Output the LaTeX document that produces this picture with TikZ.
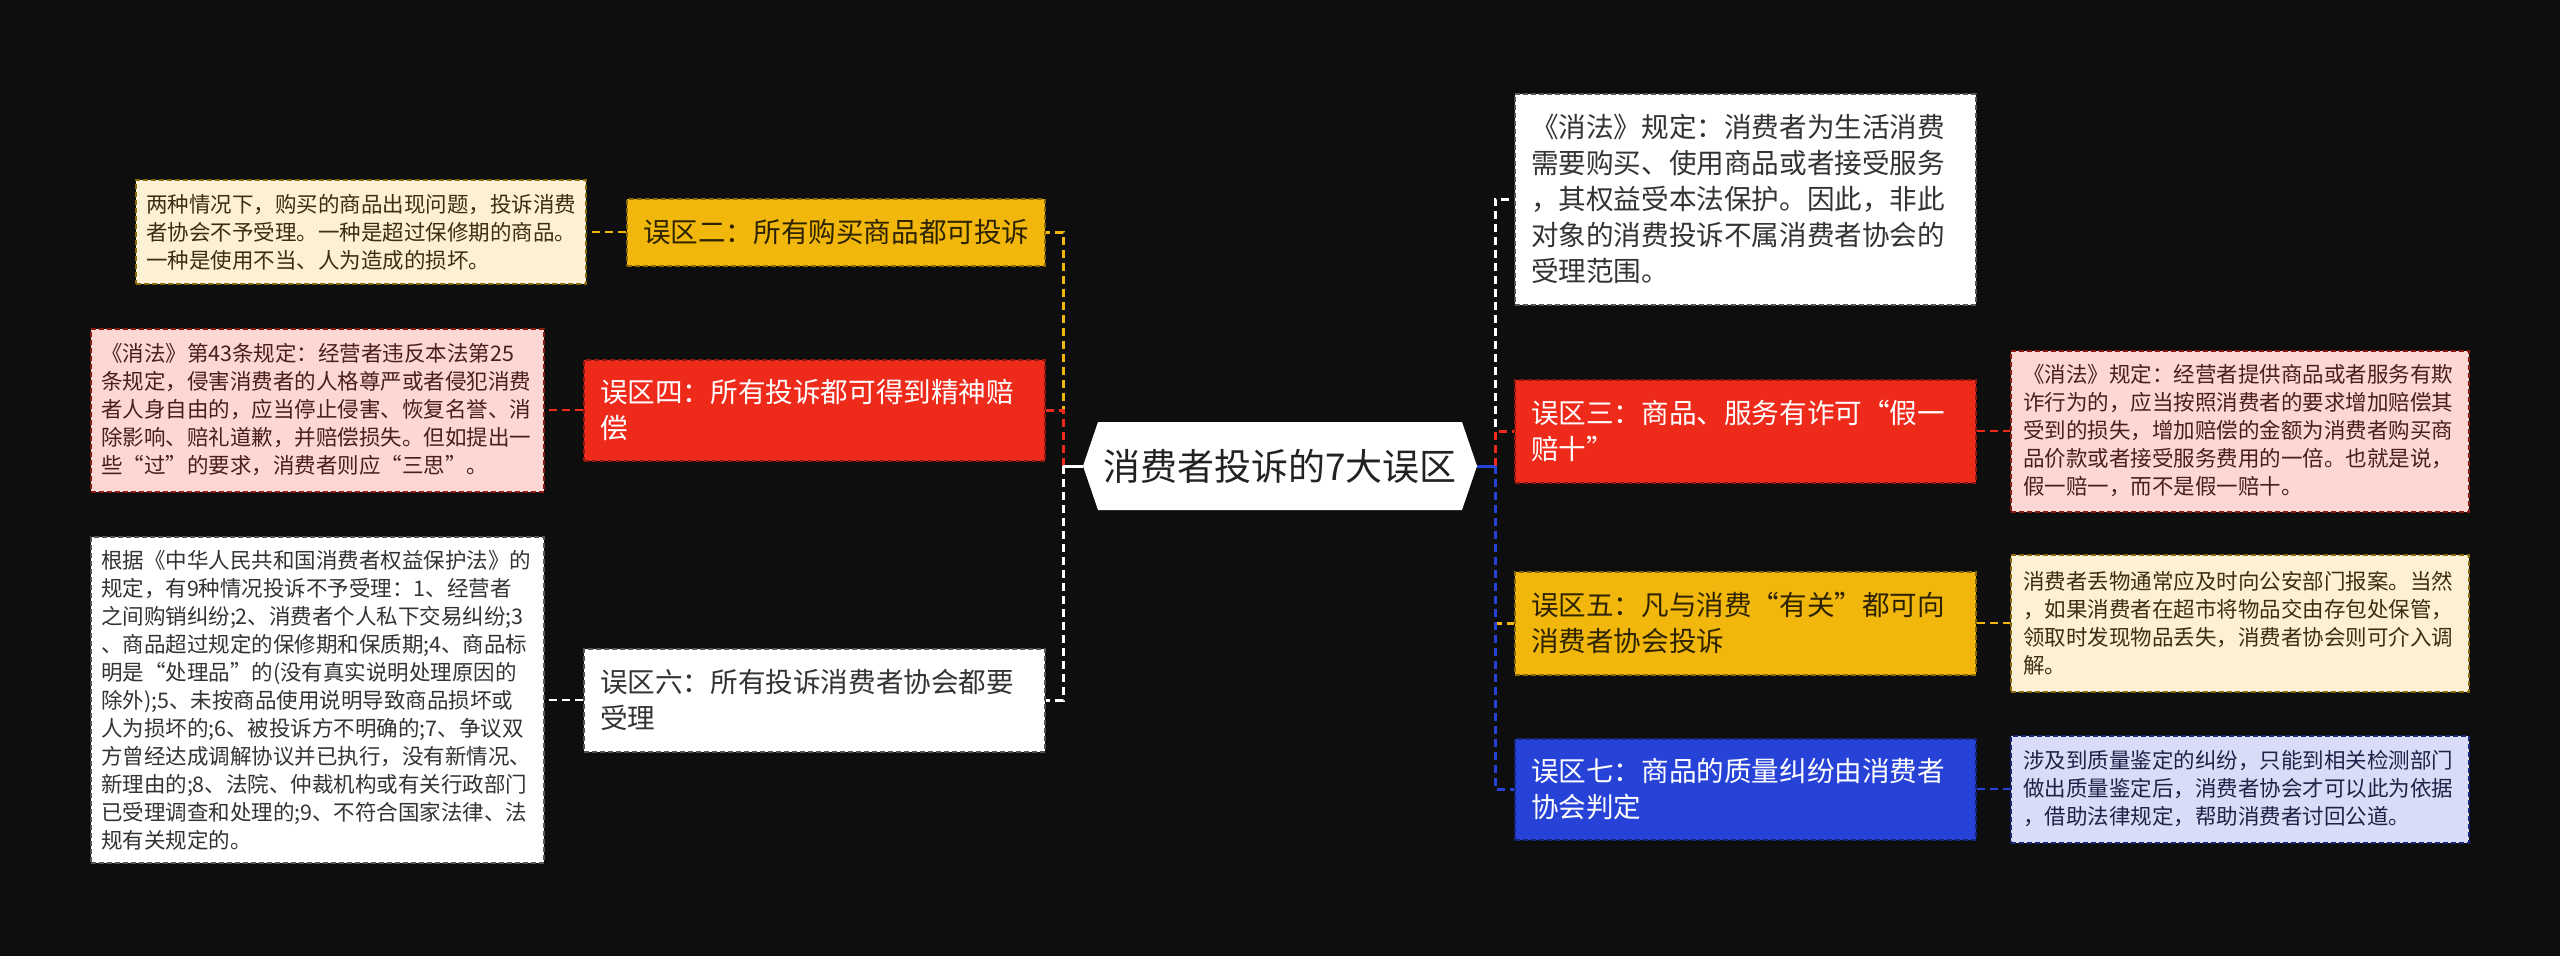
\documentclass[tikz,border=0pt]{standalone}
\usepackage{fontspec}
\setmainfont{Noto Sans CJK SC}
\definecolor{bgc}{HTML}{0E0E0E}
\definecolor{cY}{HTML}{F1B70C}
\definecolor{cYd}{HTML}{8A6A08}
\definecolor{cYt}{HTML}{2E2300}
\definecolor{cR}{HTML}{EE2A1B}
\definecolor{cRd}{HTML}{8A1A10}
\definecolor{cB}{HTML}{2742D6}
\definecolor{cBd}{HTML}{16267A}
\definecolor{cW}{HTML}{FFFFFF}
\definecolor{cWd}{HTML}{555555}
\definecolor{tW}{HTML}{333333}
\definecolor{tRoot}{HTML}{222222}
\definecolor{lY}{HTML}{FDF1D4}
\definecolor{lYt}{HTML}{3A2F14}
\definecolor{lR}{HTML}{FDD7D3}
\definecolor{lRt}{HTML}{4A1F1A}
\definecolor{lB}{HTML}{D9DCF6}
\definecolor{lBt}{HTML}{1F2247}
\newcommand\brfont{\fontsize{27.6pt}{36pt}\selectfont}
\newcommand\detfont{\fontsize{21.5pt}{28pt}\selectfont}
\newcommand\rtfont{\fontsize{37pt}{44pt}\selectfont}
\begin{document}
\begin{tikzpicture}[x=1pt,y=-1pt,
  brbox/.style={rectangle, align=left, inner xsep=16pt, inner ysep=0pt, text width=429pt, font=\brfont, line width=2pt, dash pattern=on 5pt off 3pt},
  detbox/.style={rectangle, align=left, inner xsep=10pt, inner ysep=0pt, text width=433pt, font=\detfont, line width=2pt, dash pattern=on 5pt off 3pt},
  cnx/.style={line width=3pt, dash pattern=on 8pt off 5pt},
  dcnx/.style={line width=2.5pt, dash pattern=on 8pt off 5pt},
  stub/.style={line width=3pt},
  bY/.style={fill=cY, draw=cYd, text=cYt},
  bR/.style={fill=cR, draw=cRd, text=white},
  bB/.style={fill=cB, draw=cBd, text=white},
  bW/.style={fill=cW, draw=cWd, text=tW},
  dY/.style={fill=lY, draw=cYd, text=lYt},
  dR/.style={fill=lR, draw=cRd, text=lRt},
  dB/.style={fill=lB, draw=cBd, text=lBt},
  dW/.style={fill=cW, draw=cWd, text=tW},
]
\fill[bgc] (0,0) rectangle (2560,956);
\useasboundingbox (0,0) rectangle (2560,956);

% root
\fill[white] (1083,466) -- (1098,422) -- (1462,422) -- (1477,466) -- (1462,510) -- (1098,510) -- cycle;
\node[rectangle, minimum width=394pt, minimum height=88pt, inner sep=0pt, font=\rtfont, text=tRoot] (root) at (1280,466) {消费者投诉的7大误区};

% left branches
\node[brbox, bY, text width=386pt, minimum height=67pt] (b2) at (836,232) {误区二：所有购买商品都可投诉};
\node[brbox, bR, minimum height=101pt] (b4) at (814.5,410) {误区四：所有投诉都可得到精神赔\\偿};
\node[brbox, bW, minimum height=103pt] (b6) at (814.5,700) {误区六：所有投诉消费者协会都要\\受理};

% left details
\node[detbox, dY, text width=430pt, minimum height=104pt] (d2) at (361,232) {两种情况下，购买的商品出现问题，投诉消费\\者协会不予受理。一种是超过保修期的商品。\\一种是使用不当、人为造成的损坏。};
\node[detbox, dR, minimum height=163pt] (d4) at (317.5,410) {《消法》第43条规定：经营者违反本法第25\\条规定，侵害消费者的人格尊严或者侵犯消费\\者人身自由的，应当停止侵害、恢复名誉、消\\除影响、赔礼道歉，并赔偿损失。但如提出一\\些“过”的要求，消费者则应“三思”。};
\node[detbox, dW, minimum height=326pt] (d6) at (317.5,700) {根据《中华人民共和国消费者权益保护法》的\\规定，有9种情况投诉不予受理：1、经营者\\之间购销纠纷;2、消费者个人私下交易纠纷;3\\、商品超过规定的保修期和保质期;4、商品标\\明是“处理品”的(没有真实说明处理原因的\\除外);5、未按商品使用说明导致商品损坏或\\人为损坏的;6、被投诉方不明确的;7、争议双\\方曾经达成调解协议并已执行，没有新情况、\\新理由的;8、法院、仲裁机构或有关行政部门\\已受理调查和处理的;9、不符合国家法律、法\\规有关规定的。};

% right branches
\node[brbox, bW, minimum height=211pt] (b1) at (1745.5,199) {《消法》规定：消费者为生活消费\\需要购买、使用商品或者接受服务\\，其权益受本法保护。因此，非此\\对象的消费投诉不属消费者协会的\\受理范围。};
\node[brbox, bR, minimum height=103pt] (b3) at (1745.5,431) {误区三：商品、服务有诈可“假一\\赔十”};
\node[brbox, bY, minimum height=103pt] (b5) at (1745.5,623) {误区五：凡与消费“有关”都可向\\消费者协会投诉};
\node[brbox, bB, minimum height=101pt] (b7) at (1745.5,789) {误区七：商品的质量纠纷由消费者\\协会判定};

% right details
\node[detbox, dR, inner xsep=12pt, text width=434pt, minimum height=161pt] (d3) at (2240,431) {《消法》规定：经营者提供商品或者服务有欺\\诈行为的，应当按照消费者的要求增加赔偿其\\受到的损失，增加赔偿的金额为消费者购买商\\品价款或者接受服务费用的一倍。也就是说，\\假一赔一，而不是假一赔十。};
\node[detbox, dY, inner xsep=12pt, text width=434pt, minimum height=137pt] (d5) at (2240,623) {消费者丢物通常应及时向公安部门报案。当然\\，如果消费者在超市将物品交由存包处保管，\\领取时发现物品丢失，消费者协会则可介入调\\解。};
\node[detbox, dB, inner xsep=12pt, text width=434pt, minimum height=107pt] (d7) at (2240,789) {涉及到质量鉴定的纠纷，只能到相关检测部门\\做出质量鉴定后，消费者协会才可以此为依据\\，借助法律规定，帮助消费者讨回公道。};

% spines
\coordinate (ls) at (1063,466);
\coordinate (rs) at (1495,466);
\draw[cnx, cY] (ls) |- (b2.east);
\draw[cnx, cR] (ls) |- (b4.east);
\draw[cnx, white] (ls) |- (b6.east);
\draw[stub, white] (root.west) -- (ls);
\draw[cnx, white] (rs) |- (b1.west);
\draw[cnx, cR] (rs) |- (b3.west);
\draw[cnx, cY] (rs) |- (b5.west);
\draw[cnx, cB] (rs) |- (b7.west);
\draw[stub, cB] (root.east) -- (rs);

% details connectors
\draw[dcnx, cY] (b2.west) -- (d2.east);
\draw[dcnx, cR] (b4.west) -- (d4.east);
\draw[dcnx, white] (b6.west) -- (d6.east);
\draw[dcnx, cR] (b3.east) -- (d3.west);
\draw[dcnx, cY] (b5.east) -- (d5.west);
\draw[dcnx, cB] (b7.east) -- (d7.west);
\end{tikzpicture}
\end{document}
